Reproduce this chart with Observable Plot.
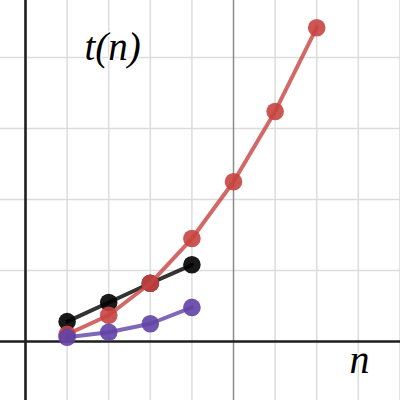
<!DOCTYPE html>
<html><head>
<meta charset="utf-8">
<script src="https://cdn.jsdelivr.net/npm/d3@7"></script>
<script src="https://cdn.jsdelivr.net/npm/@observablehq/plot@0.6"></script>
<style>body{margin:0;background:#fff}</style>
</head><body><div id="chart"></div>
<script>
// data
const nLong = [1, 2, 3, 4, 5, 6, 7];
const redT = [0.10, 0.37, 0.82, 1.45, 2.25, 3.24, 4.42];
const nShort = [1, 2, 3, 4];
const blackT = [0.28, 0.55, 0.82, 1.08];
const purpleT = [0.06, 0.13, 0.25, 0.48];
const minorX = [1, 2, 3, 4, 6, 7, 8, 9];
const majorX = [5];
const gridY = [1, 2, 3, 4];
const yLabel = ["t(n)"];
const xLabel = ["n"];

const black = nShort.map((n, i) => ({n, t: blackT[i]}));
const red = nLong.map((n, i) => ({n, t: redT[i]}));
const purple = nShort.map((n, i) => ({n, t: purpleT[i]}));

const series = [
  {data: black, color: "#000000"},
  {data: red, color: "#c74440"},
  {data: purple, color: "#6042a6"}
];

const marks = [
  Plot.ruleX(minorX, {stroke: "#dcdcdc", strokeWidth: 1.5}),
  Plot.ruleY(gridY, {stroke: "#dcdcdc", strokeWidth: 1.5}),
  Plot.ruleX(majorX, {stroke: "#8c8c8c", strokeWidth: 1.5}),
  Plot.ruleX([0], {stroke: "#1e1e1e", strokeWidth: 2.6}),
  Plot.ruleY([0], {stroke: "#1e1e1e", strokeWidth: 2.6}),
  Plot.text(yLabel, {text: d => d, frameAnchor: "top-left", dx: 84, dy: 59, textAnchor: "start", lineAnchor: "bottom",
    fontFamily: "Liberation Serif", fontStyle: "italic", fontSize: 39, fill: "#000", stroke: "#fff", strokeWidth: 3}),
  Plot.text(xLabel, {text: d => d, frameAnchor: "top-left", dx: 349, dy: 372, textAnchor: "start", lineAnchor: "bottom",
    fontFamily: "Liberation Serif", fontStyle: "italic", fontSize: 40, fill: "#000", stroke: "#fff", strokeWidth: 3})
];
for (const s of series) {
  marks.push(Plot.line(s.data, {x: "n", y: "t", stroke: s.color, strokeWidth: 4, strokeOpacity: 0.8}));
  marks.push(Plot.dot(s.data, {x: "n", y: "t", r: 8.8, fill: s.color, fillOpacity: 0.9}));
}

const chart = Plot.plot({
  width: 400, height: 400,
  marginTop: 0, marginRight: 0, marginBottom: 0, marginLeft: 0,
  x: {domain: [-0.601, 9.014], axis: null},
  y: {domain: [-0.831, 4.803], axis: null},
  style: {background: "#fff"},
  marks
});
document.getElementById("chart").appendChild(chart);
</script>
</body></html>
